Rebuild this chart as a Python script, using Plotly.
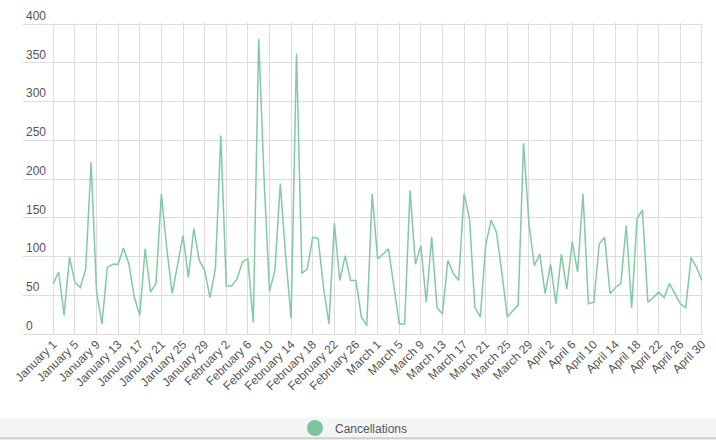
import plotly.graph_objects as go
import pandas as pd

# Daily categories: January 1 .. April 30 (leap year)
days = [f"{d.strftime('%B')} {d.day}" for d in pd.date_range("2020-01-01", "2020-04-30")]

cancellations = [
    65, 80, 24, 99, 67, 60, 84, 222, 55, 13,
    86, 90, 90, 111, 90, 47, 24, 110, 54, 65,
    181, 110, 52, 90, 127, 73, 136, 95, 82, 47,
    85, 256, 62, 62, 71, 93, 97, 15, 381, 200,
    55, 82, 194, 100, 20, 362, 78, 84, 125, 123,
    60, 13, 143, 69, 101, 69, 69, 22, 11, 181,
    97, 103, 110, 62, 13, 13, 185, 90, 114, 41,
    125, 34, 26, 95, 78, 69, 181, 149, 34, 22,
    115, 147, 131, 78, 22, 30, 37, 246, 142, 88,
    103, 52, 90, 39, 103, 58, 119, 80, 181, 39,
    41, 116, 125, 52, 60, 65, 140, 34, 149, 160,
    41, 47, 54, 47, 65, 52, 39, 34, 99, 86, 69,
]

tick_labels = days[::4]
y_ticks = [0, 50, 100, 150, 200, 250, 300, 350, 400]

GREEN = "#82caa3"
GRID = "#dcdcdc"
FONT = "Liberation Sans, Arial, sans-serif"

fig = go.Figure()
fig.add_trace(go.Scatter(
    x=days, y=cancellations, mode="lines", name="Cancellations",
    line=dict(color=GREEN, width=1.5), showlegend=False,
))
fig.add_trace(go.Scatter(
    x=[None], y=[None], mode="markers", name="Cancellations",
    marker=dict(color="#7cc59e", size=16, symbol="circle"), showlegend=True,
))

# light footer band behind the legend
fig.add_shape(type="rect", xref="paper", yref="paper",
              x0=-0.05, x1=1.05, y0=-0.36, y1=-0.27,
              fillcolor="#f5f5f5", line=dict(width=0), layer="below")
fig.add_shape(type="line", xref="paper", yref="paper",
              x0=-0.05, x1=1.05, y0=-0.3355, y1=-0.3355,
              line=dict(color="#cfcfcf", width=2), layer="below")

fig.update_layout(
    width=716, height=440,
    margin=dict(l=23, r=13, t=23, b=106),
    paper_bgcolor="white", plot_bgcolor="white",
    font=dict(family=FONT, size=12, color="#555"),
    legend=dict(orientation="h", xref="container", yref="container",
                x=0.412, xanchor="left", y=0.0273, yanchor="middle",
                font=dict(size=12, color="#555"), bgcolor="rgba(0,0,0,0)"),
    xaxis=dict(
        type="category", categoryorder="array", categoryarray=days,
        range=[-5.6, 120.2], automargin=False,
        tickmode="array", tickvals=tick_labels, ticktext=tick_labels,
        tickangle=-45, showgrid=True, gridcolor=GRID, gridwidth=1,
        showline=False, zeroline=False, ticks="",
        tickfont=dict(size=12, color="#555"),
    ),
    yaxis=dict(
        range=[0, 401.3], tickvals=y_ticks, automargin=False,
        ticklabelposition="inside top", ticklabeloverflow="allow",
        showgrid=True, gridcolor=GRID, gridwidth=1,
        zeroline=True, zerolinecolor=GRID, zerolinewidth=1,
        showline=False, ticks="",
        tickfont=dict(size=12, color="#555"),
    ),
)

fig.write_html("out.html", config={"displayModeBar": False},
               post_script="document.body.style.margin='0px';")
